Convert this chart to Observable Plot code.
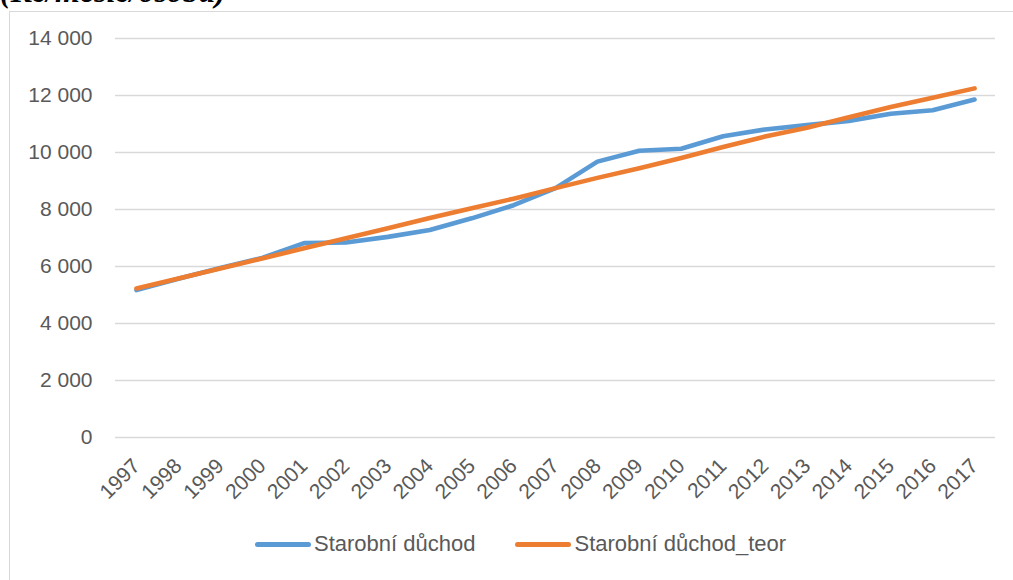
<!DOCTYPE html>
<html>
<head>
<meta charset="utf-8">
<script src="https://cdn.jsdelivr.net/npm/d3@7"></script>
<script src="https://cdn.jsdelivr.net/npm/@observablehq/plot@0.6"></script>
<style>
  html, body { margin: 0; padding: 0; background: #fff; overflow: hidden; width: 1013px; height: 580px; }
  #frame { position: absolute; left: 9px; top: 11px; width: 1100px; height: 700px; border: 1px solid #D9D9D9; box-sizing: border-box; }
  #title { position: absolute; left: 0px; top: -25px; font-family: "Liberation Serif", "Times New Roman", serif; font-weight: bold; font-style: italic; font-size: 32px; line-height: 32px; color: #000; white-space: nowrap; }
  #chart { position: absolute; left: 0; top: 0; }
  #legend { position: absolute; left: 255px; top: 531px; font-family: "Liberation Sans", Arial, sans-serif; font-size: 22px; color: #595959; display: flex; align-items: center; white-space: nowrap; }
  .item { display: flex; align-items: center; margin-right: 40px; }
  .sw { width: 56px; height: 5px; border-radius: 3px; margin-right: 3px; }
</style>
</head>
<body>
<div id="frame"></div>
<div id="title">(Kč/měsíc/osoba)</div>
<div id="chart"></div>
<div id="legend"></div>
<script>
const years = ["1997","1998","1999","2000","2001","2002","2003","2004","2005","2006","2007","2008","2009","2010","2011","2012","2013","2014","2015","2016","2017"];
const actual = [5170, 5570, 5950, 6300, 6820, 6840, 7040, 7280, 7690, 8150, 8750, 9680, 10060, 10130, 10570, 10810, 10960, 11110, 11360, 11480, 11860];
const theor = [5230, 5580, 5930, 6280, 6640, 6990, 7340, 7700, 8040, 8380, 8750, 9110, 9450, 9810, 10190, 10560, 10870, 11240, 11600, 11920, 12250];
const seriesNames = ["Starobní důchod", "Starobní důchod_teor"];
const seriesColors = ["#5B9BD5", "#ED7D31"];
const yTicks = [0, 2000, 4000, 6000, 8000, 10000, 12000, 14000];

const data = [];
years.forEach((y, i) => data.push({year: y, value: actual[i], series: seriesNames[0]}));
years.forEach((y, i) => data.push({year: y, value: theor[i], series: seriesNames[1]}));

const fmt = d => d3.format(",")(d).replace(/,/g, " ");

const chart = Plot.plot({
  width: 1013,
  height: 520,
  marginLeft: 115,
  marginRight: 18,
  marginTop: 38,
  marginBottom: 83,
  style: { fontFamily: "'Liberation Sans', Arial, sans-serif", fontSize: "21px", color: "#595959", background: "transparent", overflow: "visible" },
  x: { type: "point", domain: years, padding: 0.5, round: false },
  y: { domain: [0, 14000] },
  color: { domain: seriesNames, range: seriesColors },
  marks: [
    Plot.gridY(yTicks, { stroke: "#D9D9D9", strokeOpacity: 1, strokeWidth: 1.4 }),
    Plot.axisY(yTicks, { tickSize: 0, tickPadding: 23, tickFormat: fmt, label: null }),
    Plot.axisX({ tickRotate: -45, tickSize: 0, tickPadding: 25, label: null, fontSize: 21 }),
    Plot.line(data, { x: "year", y: "value", z: "series", stroke: "series", strokeWidth: 4.6, strokeLinecap: "round", strokeLinejoin: "round" })
  ]
});
document.getElementById("chart").appendChild(chart);

const legend = document.getElementById("legend");
seriesNames.forEach((name, i) => {
  const item = document.createElement("div");
  item.className = "item";
  const sw = document.createElement("div");
  sw.className = "sw";
  sw.style.background = seriesColors[i];
  const t = document.createElement("span");
  t.textContent = name;
  item.appendChild(sw);
  item.appendChild(t);
  legend.appendChild(item);
});
</script>
</body>
</html>
